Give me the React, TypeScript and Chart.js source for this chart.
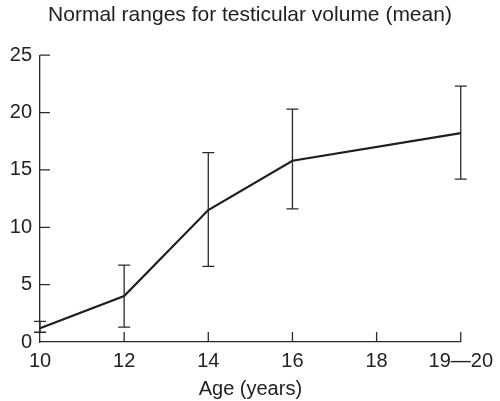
import React, { useEffect, useRef } from "react";
import { Chart, registerables } from "chart.js";

Chart.register(...registerables);

// Age groups in years (20 stands for the 19—20 group)
const ages = [10, 12, 14, 16, 20];
// Mean testicular volume (ml) per age
const meanVolume = [1.2, 4.0, 11.5, 15.8, 18.2];
// Lower and upper limits of the normal range
const lowerLimit = [0.85, 1.3, 6.6, 11.6, 14.2];
const upperLimit = [1.8, 6.7, 16.5, 20.3, 22.3];

const xTickLabels: Record<number, string> = {
  10: "10",
  12: "12",
  14: "14",
  16: "16",
  18: "18",
  20: "19—20",
};

const INK = "#2a2a2a";
const FONT = "'Liberation Sans', Arial, Helvetica, sans-serif";

// Vertical range bars with caps, positioned through the chart scales
const rangeBars = {
  id: "rangeBars",
  afterDatasetsDraw(chart: any) {
    const { ctx, scales } = chart;
    const x = scales.x;
    const y = scales.y;
    const cap = 6;
    ctx.save();
    ctx.strokeStyle = INK;
    ctx.lineWidth = 1.3;
    ages.forEach((age, i) => {
      const px = x.getPixelForValue(age);
      const top = y.getPixelForValue(upperLimit[i]);
      const bottom = y.getPixelForValue(lowerLimit[i]);
      ctx.beginPath();
      ctx.moveTo(px, top);
      ctx.lineTo(px, bottom);
      ctx.moveTo(px - cap, top);
      ctx.lineTo(px + cap, top);
      ctx.moveTo(px - cap, bottom);
      ctx.lineTo(px + cap, bottom);
      ctx.stroke();
    });
    ctx.restore();
  },
};

// Tick marks pointing into the plot area
const inwardTicks = {
  id: "inwardTicks",
  afterDraw(chart: any) {
    const { ctx, scales } = chart;
    const x = scales.x;
    const y = scales.y;
    const len = 10;
    ctx.save();
    ctx.strokeStyle = INK;
    ctx.lineWidth = 1.3;
    ctx.beginPath();
    x.ticks.forEach((t: any) => {
      if (t.value === x.min) return;
      const px = x.getPixelForValue(t.value);
      ctx.moveTo(px, x.top);
      ctx.lineTo(px, x.top - len);
    });
    y.ticks.forEach((t: any) => {
      if (t.value === y.min) return;
      const py = y.getPixelForValue(t.value);
      ctx.moveTo(y.right, py);
      ctx.lineTo(y.right + len, py);
    });
    ctx.stroke();
    ctx.restore();
  },
};

export default function App() {
  const canvasRef = useRef<HTMLCanvasElement | null>(null);

  useEffect(() => {
    if (!canvasRef.current) return;
    const chart = new Chart(canvasRef.current, {
      type: "line",
      data: {
        datasets: [
          {
            data: ages.map((a, i) => ({ x: a, y: meanVolume[i] })),
            borderColor: "#1e1e1e",
            borderWidth: 2.2,
            pointRadius: 0,
            tension: 0,
            fill: false,
            clip: false as any,
          },
        ],
      },
      options: {
        animation: false,
        responsive: false,
        maintainAspectRatio: false,
        layout: { padding: 0 },
        plugins: {
          legend: { display: false },
          tooltip: { enabled: false },
          title: {
            display: true,
            text: "Normal ranges for testicular volume (mean)",
            color: "#222",
            font: { family: FONT, size: 21, weight: "normal" },
            padding: { top: 3, bottom: 27 },
          },
        },
        scales: {
          x: {
            type: "linear",
            min: 10,
            max: 20,
            afterFit(scale: any) {
              scale.height = 59;
            },
            border: { display: true, color: INK, width: 1.3 },
            grid: { display: true, drawOnChartArea: false, drawTicks: false },
            ticks: {
              stepSize: 2,
              padding: 7,
              maxRotation: 0,
              autoSkip: false,
              color: "#222",
              font: { family: FONT, size: 20 },
              callback: (v: any) => xTickLabels[v as number] ?? "",
            },
            title: {
              display: true,
              text: "Age (years)",
              color: "#222",
              font: { family: FONT, size: 20 },
              padding: { top: 0, bottom: 0 },
            },
          },
          y: {
            type: "linear",
            min: 0,
            max: 25,
            afterFit(scale: any) {
              scale.width = 40;
            },
            border: { display: true, color: INK, width: 1.3 },
            grid: { display: true, drawOnChartArea: false, drawTicks: false },
            ticks: {
              stepSize: 5,
              padding: 8,
              color: "#222",
              font: { family: FONT, size: 20 },
            },
          },
          // empty right-hand margin so the plot ends before the last label
          yRight: {
            type: "linear",
            position: "right",
            display: true,
            min: 0,
            max: 25,
            afterFit(scale: any) {
              scale.width = 36;
            },
            border: { display: false },
            grid: { display: false },
            ticks: { display: false },
          },
        },
      },
      plugins: [rangeBars, inwardTicks],
    });
    return () => chart.destroy();
  }, []);

  return (
    <div style={{ position: "fixed", left: 0, top: 0, width: 500, height: 401, background: "#fff" }}>
      <canvas ref={canvasRef} width={500} height={401} />
    </div>
  );
}
